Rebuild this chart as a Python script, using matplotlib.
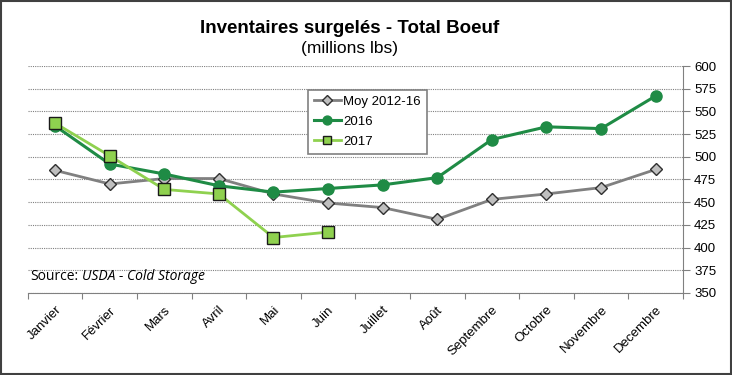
import matplotlib
matplotlib.use("Agg")
import matplotlib.pyplot as plt
from matplotlib.patches import Rectangle

months = ["Janvier", "Février", "Mars", "Avril", "Mai", "Juin", "Juillet", "Août",
          "Septembre", "Octobre", "Novembre", "Decembre"]
moy = [485, 470, 476, 476, 459, 449, 444, 431, 453, 459, 466, 486]
y2016 = [534, 492, 481, 468, 461, 465, 469, 477, 519, 533, 531, 567]
y2017 = [537, 501, 464, 459, 411, 417]
yticks = list(range(350, 601, 25))

plt.rcParams['font.family'] = ['Liberation Sans', 'DejaVu Sans']

fig = plt.figure(figsize=(7.32, 3.75), dpi=100)
fig.patches.append(Rectangle((0.002, 0.003), 0.996, 0.994, transform=fig.transFigure,
                             fill=False, edgecolor='#404040', linewidth=1.5))
ax = fig.add_axes([0.038, 0.219, 0.895, 0.605])

x = list(range(len(months)))
ax.plot(x, moy, color='#808080', linewidth=2, marker='D', markersize=6,
        markerfacecolor='#bfbfbf', markeredgecolor='#303030', markeredgewidth=1,
        label='Moy 2012-16', zorder=3)
ax.plot(x, y2016, color='#1f8b45', linewidth=2.2, marker='o', markersize=8,
        markerfacecolor='#1f8b45', markeredgecolor='#1f8b45',
        label='2016', zorder=4)
ax.plot(x[:len(y2017)], y2017, color='#8fd14f', linewidth=2, marker='s', markersize=8,
        markerfacecolor='#8fd14f', markeredgecolor='#1a1a1a', markeredgewidth=1,
        label='2017', zorder=5)

ax.set_xlim(-0.5, len(months) - 0.5)
ax.set_ylim(350, 600)
ax.set_yticks(yticks)
ax.yaxis.tick_right()
ax.tick_params(axis='y', direction='out', length=5, color='#808080', labelsize=9.5, pad=3)
ax.grid(axis='y', color='#808080', linestyle=(0, (1, 1)), linewidth=0.8)
ax.set_axisbelow(True)

ax.set_xticks([i - 0.5 for i in range(len(months) + 1)], minor=False)
ax.set_xticklabels([])
ax.set_xticks(x, minor=True)
ax.set_xticklabels(months, minor=True, rotation=45, ha='right', rotation_mode='anchor',
                   fontsize=9.5)
ax.tick_params(axis='x', which='major', direction='out', length=4, color='#808080')
ax.tick_params(axis='x', which='minor', length=0, pad=8)

for s in ['left', 'top']:
    ax.spines[s].set_visible(False)
ax.spines['right'].set_color('#808080')
ax.spines['bottom'].set_color('#808080')

fig.text(0.478, 0.925, "Inventaires surgelés - Total Boeuf", ha='center', va='center',
         fontsize=13.5, fontweight='bold')
fig.text(0.478, 0.872, "(millions lbs)", ha='center', va='center', fontsize=12.5)

t1 = fig.text(0.041, 0.263, "Source:", fontsize=10, family=['Open Sans', 'DejaVu Sans'],
              va='center')
fig.canvas.draw()
bb = t1.get_window_extent()
fig.text((bb.x1 + 4) / fig.bbox.width, 0.263, "USDA - Cold Storage", fontsize=10,
         style='italic', family=['Open Sans', 'DejaVu Sans'], va='center')

leg = ax.legend(loc='upper left', bbox_to_anchor=(0.418, 0.925), fontsize=9.5,
                frameon=True, fancybox=False, edgecolor='#808080', framealpha=1,
                handlelength=2.0, borderpad=0.45, labelspacing=0.6, handletextpad=0.2,
                markerscale=0.8)
leg.get_frame().set_linewidth(1.2)

fig.savefig("out.png", dpi=100)
